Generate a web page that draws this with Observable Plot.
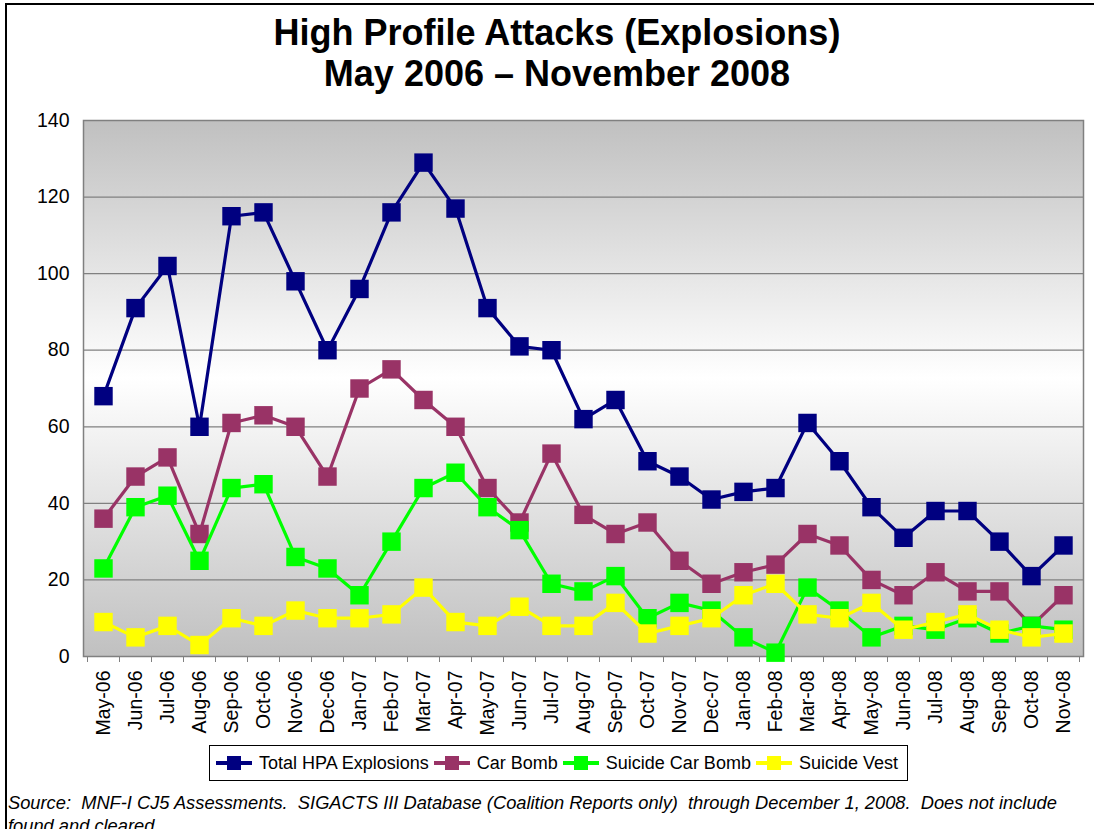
<!DOCTYPE html>
<html>
<head>
<meta charset="utf-8">
<script src="https://cdn.jsdelivr.net/npm/d3@7"></script>
<script src="https://cdn.jsdelivr.net/npm/@observablehq/plot@0.6"></script>
<style>
  html, body { margin: 0; padding: 0; background: #fff; }
  #wrap { position: relative; width: 1094px; height: 829px; overflow: hidden; background: #fff; font-family: "Liberation Sans", Arial, sans-serif; }
  #border { position: absolute; left: 5px; top: 3px; width: 1200px; height: 1000px; border-left: 2px solid #000; border-top: 2px solid #000; }
  #title { position: absolute; left: 5px; top: 12px; width: 1104px; text-align: center; font-weight: bold; font-size: 36px; line-height: 41px; color: #000; }
  #chart { position: absolute; left: 0; top: 110px; }
  #legend { position: absolute; left: 209px; top: 745px; width: 697px; height: 34px; border: 1px solid #000; display: flex; align-items: center; justify-content: center; font-size: 18px; background: #fff; }
  #legend .item { display: flex; align-items: center; }
  #legend .item span { margin-left: 6px; margin-right: 4px; }
  #source { position: absolute; left: 8px; top: 791px; font-style: italic; font-size: 18.3px; line-height: 23px; white-space: pre; color: #000; }
</style>
</head>
<body>
<div id="wrap">
  <div id="border"></div>
  <div id="title">High Profile Attacks (Explosions)<br>May 2006 – November 2008</div>
  <div id="chart"></div>
  <div id="legend"></div>
  <div id="source"></div>
</div>
<script>
const months = ["May-06","Jun-06","Jul-06","Aug-06","Sep-06","Oct-06","Nov-06","Dec-06",
  "Jan-07","Feb-07","Mar-07","Apr-07","May-07","Jun-07","Jul-07","Aug-07","Sep-07","Oct-07","Nov-07","Dec-07",
  "Jan-08","Feb-08","Mar-08","Apr-08","May-08","Jun-08","Jul-08","Aug-08","Sep-08","Oct-08","Nov-08"];
const totalHPA = [68,91,102,60,115,116,98,80,96,116,129,117,91,81,80,62,67,51,47,41,43,44,61,51,39,31,38,38,30,21,29];
const carBomb = [36,47,52,32,61,63,60,47,70,75,67,60,44,35,53,37,32,35,25,19,22,24,32,29,20,16,22,17,17,8,16];
const suicideCarBomb = [23,39,42,25,44,45,26,23,16,30,44,48,39,33,19,17,21,10,14,12,5,1,18,12,5,8,7,10,6,8,7];
const suicideVest = [9,5,8,3,10,8,12,10,10,11,18,9,8,13,8,8,14,6,8,10,16,19,11,10,14,7,9,11,7,5,6];
const seriesNames = ["Total HPA Explosions","Car Bomb","Suicide Car Bomb","Suicide Vest"];
const seriesColors = ["#000080","#993366","#00ff00","#ffff00"];
const yTicks = [0,20,40,60,80,100,120,140];
const sourceLines = ["Source:  MNF-I CJ5 Assessments.  SIGACTS III Database (Coalition Reports only)  through December 1, 2008.  Does not include", "found and cleared."];

const seriesValues = [totalHPA, carBomb, suicideCarBomb, suicideVest];

const tickMarks = (index, scales, values, dims) => {
  const x = scales.x;
  const step = x(months[1]) - x(months[0]);
  const y0 = dims.height - dims.marginBottom;
  const g = d3.create("svg:g").attr("stroke", "#808080").attr("stroke-width", 1);
  for (let i = 0; i <= months.length; i++) {
    const xx = Math.round(x(months[0]) - step / 2 + i * step) + 0.5;
    g.append("line").attr("x1", xx).attr("x2", xx).attr("y1", y0).attr("y2", y0 + 6);
  }
  return g.node();
};

const seriesMarks = [];
seriesValues.forEach((vals, s) => {
  seriesMarks.push(Plot.line(vals, {x: (d, i) => months[i], y: d => d, stroke: seriesColors[s], strokeWidth: 3.2}));
  seriesMarks.push(Plot.dot(vals, {x: (d, i) => months[i], y: d => d, symbol: "square", r: 10.4, fill: seriesColors[s], stroke: "none"}));
});

const chart = Plot.plot({
  width: 1094,
  height: 630,
  marginTop: 10,
  marginBottom: 84,
  marginLeft: 83,
  marginRight: 11,
  style: {fontFamily: "'Liberation Sans', Arial, sans-serif", fontSize: "19.5px", color: "#000", background: "transparent", overflow: "visible"},
  x: {type: "point", domain: months, padding: 0.5, label: null},
  y: {domain: [0, 140], label: null},
  marks: [
    Plot.frame({fill: "url(#plotBg)", stroke: "none"}),
    Plot.ruleY(yTicks.filter(t => t > 0 && t < 140), {stroke: "#808080", strokeWidth: 1.2}),
    Plot.frame({stroke: "#808080", strokeWidth: 1.5}),
    tickMarks,
    Plot.axisY(yTicks, {tickSize: 0, tickPadding: 14, fontSize: 19.5, label: null}),
    Plot.axisX(months, {tickSize: 0, tickRotate: -90, tickPadding: 14, fontSize: 19.5, label: null}),
    ...seriesMarks
  ]
});

const svgSel = d3.select(chart.tagName.toLowerCase() === "svg" ? chart : chart.querySelector("svg"));
const defs = svgSel.insert("defs", ":first-child");
const grad = defs.append("linearGradient").attr("id", "plotBg").attr("x1", 0).attr("y1", 0).attr("x2", 0).attr("y2", 1);
grad.append("stop").attr("offset", "0%").attr("stop-color", "#c0c0c0");
grad.append("stop").attr("offset", "48%").attr("stop-color", "#ffffff");
grad.append("stop").attr("offset", "100%").attr("stop-color", "#c0c0c0");

document.getElementById("chart").appendChild(chart);

// Legend
const legend = d3.select("#legend");
seriesNames.forEach((name, s) => {
  const item = legend.append("div").attr("class", "item");
  const sv = item.append("svg").attr("width", 38).attr("height", 20);
  sv.append("line").attr("x1", 1).attr("x2", 37).attr("y1", 10).attr("y2", 10).attr("stroke", seriesColors[s]).attr("stroke-width", 4);
  sv.append("rect").attr("x", 12).attr("y", 3).attr("width", 14).attr("height", 14).attr("fill", seriesColors[s]);
  item.append("span").text(name);
});

// Source
d3.select("#source").text(sourceLines.join("\n"));
</script>
</body>
</html>
